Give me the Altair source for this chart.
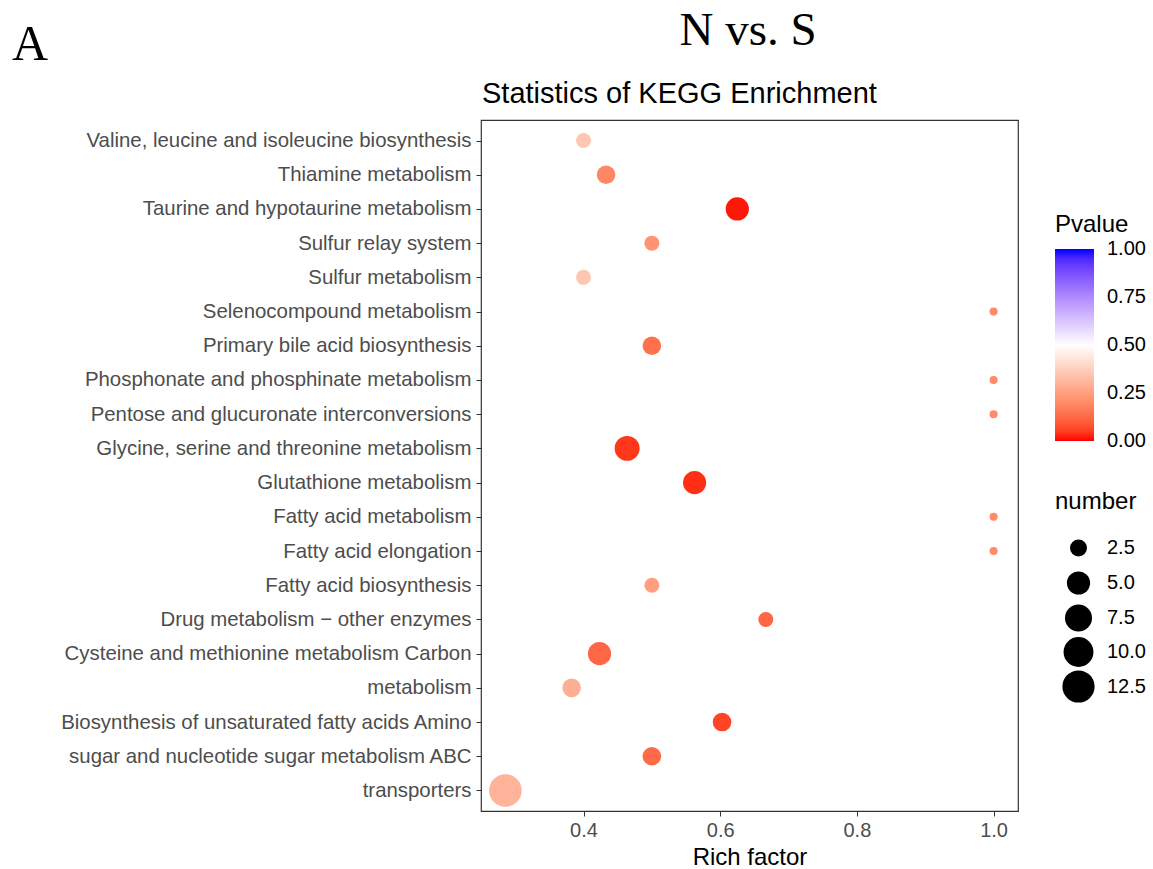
import altair as alt
import pandas as pd

pathways = [
    "Valine, leucine and isoleucine biosynthesis",
    "Thiamine metabolism",
    "Taurine and hypotaurine metabolism",
    "Sulfur relay system",
    "Sulfur metabolism",
    "Selenocompound metabolism",
    "Primary bile acid biosynthesis",
    "Phosphonate and phosphinate metabolism",
    "Pentose and glucuronate interconversions",
    "Glycine, serine and threonine metabolism",
    "Glutathione metabolism",
    "Fatty acid metabolism",
    "Fatty acid elongation",
    "Fatty acid biosynthesis",
    "Drug metabolism − other enzymes",
    "Cysteine and methionine metabolism Carbon",
    "metabolism",
    "Biosynthesis of unsaturated fatty acids Amino",
    "sugar and nucleotide sugar metabolism ABC",
    "transporters",
]
rich_factor = [0.40, 0.433, 0.625, 0.50, 0.40, 1.0, 0.50, 1.0, 1.0, 0.4638,
               0.5625, 1.0, 1.0, 0.50, 0.6667, 0.4234, 0.3826, 0.6027, 0.50, 0.2857]
number = [2, 3, 5, 2, 2, 1, 3, 1, 1, 6,
          5, 1, 1, 2, 2, 5, 3, 3, 3, 13]
pvalue = [0.35, 0.19, 0.01, 0.22, 0.35, 0.20, 0.14, 0.20, 0.20, 0.04,
          0.03, 0.20, 0.20, 0.25, 0.12, 0.12, 0.29, 0.06, 0.13, 0.30]
pvalue_ticks = [0.0001, 0.25, 0.5, 0.75, 0.9999]
number_ticks = [2.5, 5, 7.5, 10, 12.5]

df = pd.DataFrame({"pathway": pathways, "rich": rich_factor,
                   "number": number, "Pvalue": pvalue})

SANS = "Liberation Sans"
SERIF = "Liberation Serif"

points = alt.Chart(df).mark_circle(opacity=1, strokeWidth=0).encode(
    x=alt.X("rich:Q",
            scale=alt.Scale(domain=[0.25, 1.0357], nice=False, zero=False),
            axis=alt.Axis(title="Rich factor", values=[0.4, 0.6, 0.8, 1.0], format=".1f",
                          grid=False, domain=False, tickSize=5, tickColor="#333333",
                          labelFontSize=20, labelColor="#4D4D4D", labelFont=SANS,
                          titleFontSize=24, titleFont=SANS, titleColor="black",
                          titleFontWeight="normal", labelPadding=4, titlePadding=5)),
    y=alt.Y("pathway:N", sort=pathways,
            scale=alt.Scale(type="point", padding=0.6),
            axis=alt.Axis(title=None, grid=False, domain=False, tickSize=5,
                          tickColor="#333333", labelFontSize=20.4, labelColor="#4D4D4D",
                          labelFont=SANS, labelPadding=5, labelLimit=600)),
    color=alt.Color("Pvalue:Q",
                    scale=alt.Scale(domain=[0, 0.5, 1], range=["#FF0000", "#FFFFFF", "#0000FF"],
                                    interpolate="lab"),
                    legend=alt.Legend(title="Pvalue", orient="none", legendX=574, legendY=93,
                                      direction="vertical", gradientLength=192,
                                      gradientThickness=39, gradientStrokeWidth=0,
                                      values=pvalue_ticks, format=".2f",
                                      labelFontSize=20, labelFont=SANS, labelColor="black",
                                      titleFontSize=24, titleFont=SANS, titleColor="black",
                                      titleFontWeight="normal", titlePadding=12,
                                      labelOffset=13, labelOverlap=False)),
    size=alt.Size("number:Q",
                  scale=alt.Scale(type="sqrt", domain=[1, 13], range=[66, 1063], zero=False),
                  legend=alt.Legend(title="number", orient="none", legendX=574, legendY=370,
                                    values=number_ticks, format=".1f",
                                    symbolFillColor="black", symbolStrokeColor="black",
                                    symbolStrokeWidth=0, symbolOpacity=1, symbolType="circle",
                                    labelFontSize=20, labelFont=SANS, labelColor="black",
                                    titleFontSize=24, titleFont=SANS, titleColor="black",
                                    titleFontWeight="normal", titlePadding=24,
                                    gridAlign="all", rowPadding=0,
                                    symbolOffset=7, labelOffset=12)),
)

nvs = alt.Chart(pd.DataFrame({"t": ["N vs. S"]})).mark_text(
    font=SERIF, fontSize=47, align="center", baseline="alphabetic", color="black").encode(
    text="t:N", x=alt.value(267), y=alt.value(-75))
aa = alt.Chart(pd.DataFrame({"t": ["A"]})).mark_text(
    font=SERIF, fontSize=50, align="left", baseline="alphabetic", color="black").encode(
    text="t:N", x=alt.value(-469), y=alt.value(-60))
ttl = alt.Chart(pd.DataFrame({"t": ["Statistics of KEGG Enrichment"]})).mark_text(
    font=SANS, fontSize=29, align="left", baseline="alphabetic", color="black").encode(
    text="t:N", x=alt.value(1), y=alt.value(-17))

chart = alt.layer(points, nvs, aa, ttl).properties(
    width=537, height=691,
    autosize=alt.AutoSizeParams(type="none"),
    padding={"left": 481, "top": 120, "right": 135, "bottom": 58},
).configure(background="white").configure_view(stroke="#333333", strokeWidth=1.2)

chart.save("out.html", embed_options={"renderer": "svg", "actions": False})
